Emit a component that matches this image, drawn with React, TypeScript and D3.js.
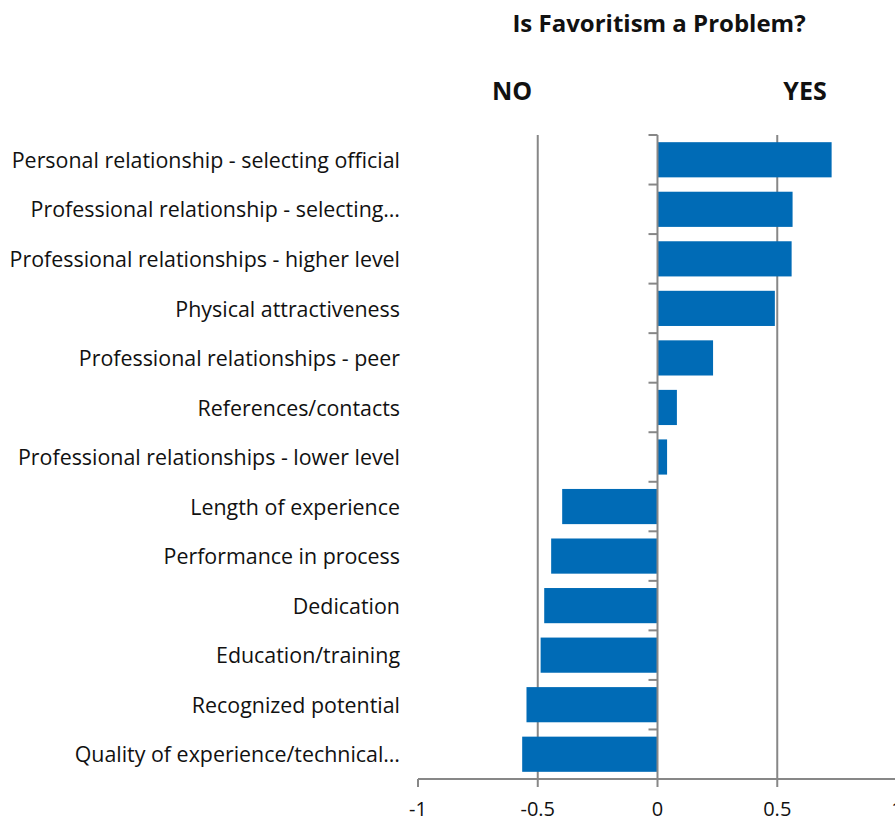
import * as d3 from 'd3'

const categories = [
  'Personal relationship - selecting official',
  'Professional relationship - selecting…',
  'Professional relationships - higher level',
  'Physical attractiveness',
  'Professional relationships - peer',
  'References/contacts',
  'Professional relationships - lower level',
  'Length of experience',
  'Performance in process',
  'Dedication',
  'Education/training',
  'Recognized potential',
  'Quality of experience/technical…',
]
const values = [0.727, 0.564, 0.56, 0.49, 0.232, 0.081, 0.04, -0.398, -0.444, -0.473, -0.488, -0.547, -0.565]
const xTicks = [-1, -0.5, 0, 0.5, 1]
const gridValues = [-0.5, 0.5]

const W = 895
const H = 822
const GRAY = '#878787'
const BLUE = '#006BB6'
const FONT = '"Open Sans", sans-serif'

export default function App() {
  const x = d3.scaleLinear().domain([-1, 1]).range([418, 897])
  const y = d3.scaleBand().domain(categories).range([135, 779]).paddingInner(0.29).paddingOuter(0.145)
  const band = d3.scaleBand().domain(categories).range([135, 779])
  const boundaries = categories.map(c => band(c) as number).concat([779])

  return (
    <svg width={W} height={H} style={{ position: 'absolute', left: 0, top: 0 }} fontFamily={FONT}>
      <text x={659} y={32} textAnchor="middle" fontWeight="bold" fontSize={24} fill="#111">
        Is Favoritism a Problem?
      </text>
      <text x={512} y={100} textAnchor="middle" fontWeight="bold" fontSize={25} fill="#111">NO</text>
      <text x={805} y={100} textAnchor="middle" fontWeight="bold" fontSize={25} fill="#111">YES</text>

      {gridValues.map(v => (
        <line key={v} x1={x(v)} x2={x(v)} y1={135} y2={779} stroke={GRAY} strokeWidth={2} />
      ))}

      {categories.map((c, i) => {
        const v = values[i]
        return (
          <rect
            key={c}
            x={Math.min(x(0), x(v))}
            y={y(c)}
            width={Math.abs(x(v) - x(0))}
            height={y.bandwidth()}
            fill={BLUE}
          />
        )
      })}

      {/* category axis at 0 */}
      <line x1={x(0)} x2={x(0)} y1={135} y2={779} stroke={GRAY} strokeWidth={2} />
      {boundaries.map((b, i) => (
        <line key={i} x1={x(0) - 9} x2={x(0)} y1={b} y2={b} stroke={GRAY} strokeWidth={2} />
      ))}
      {categories.map(c => (
        <text
          key={c}
          x={400}
          y={(band(c) as number) + band.bandwidth() / 2}
          dy="0.38em"
          textAnchor="end"
          fontSize={21.4}
          fill="#111"
        >
          {c}
        </text>
      ))}

      {/* value axis */}
      <line x1={x(-1)} x2={W} y1={779} y2={779} stroke={GRAY} strokeWidth={2} />
      {xTicks.map(t => (
        <g key={t}>
          <line x1={x(t)} x2={x(t)} y1={779} y2={787} stroke={GRAY} strokeWidth={2} />
          <text x={x(t)} y={816} textAnchor="middle" fontSize={20} fill="#111">
            {t}
          </text>
        </g>
      ))}
    </svg>
  )
}
